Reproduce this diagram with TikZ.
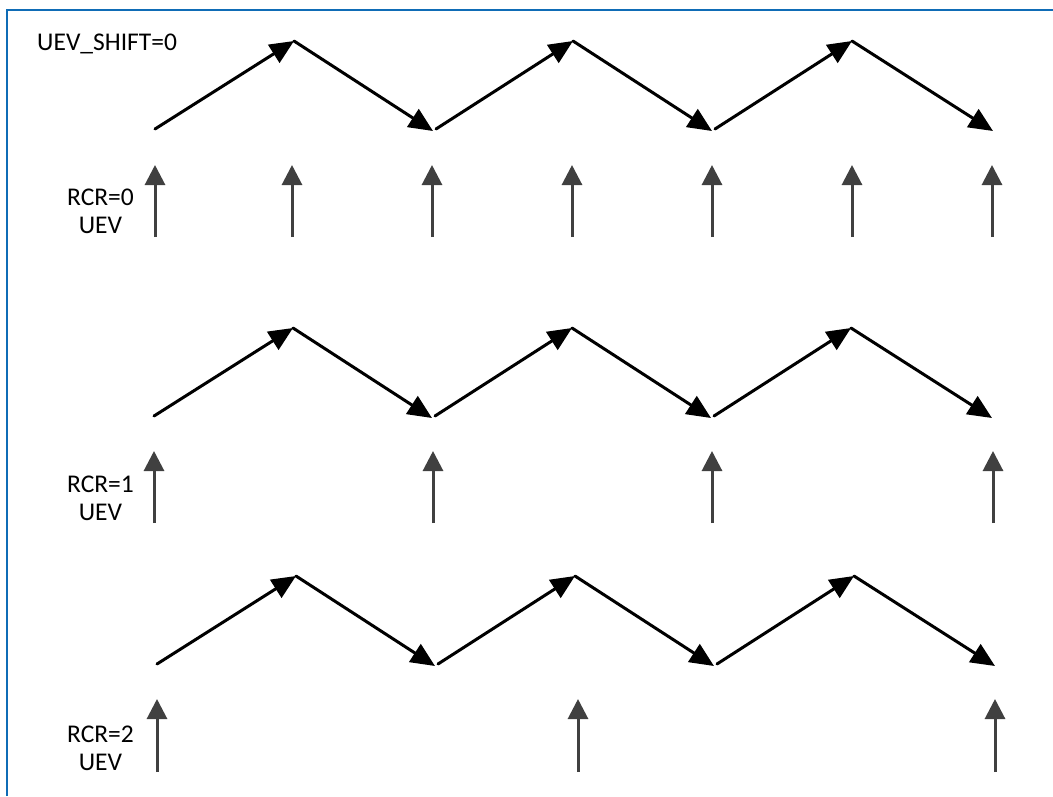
\documentclass[tikz,border=0pt]{standalone}
\usepackage{fontspec}
\setmainfont{Carlito}
\usetikzlibrary{arrows.meta}
\definecolor{frameblue}{HTML}{0F6CB6}
\definecolor{evgray}{HTML}{404040}
\begin{document}
\begin{tikzpicture}[x=1pt,y=-1pt,
  ramp/.style={line width=3pt,line cap=round,-{Triangle[length=24pt,width=21pt]}},
  uevarrow/.style={evgray,line width=3pt,-{Triangle[length=20pt,width=20pt]}},
  lbl/.style={inner sep=0pt,anchor=base,font=\fontsize{25.5}{28}\selectfont}]
\useasboundingbox (0,0) rectangle (1053,796);
% frame (clipped on right and bottom)
\draw[frameblue,line width=2pt] (7,796) -- (7,10.3) -- (1053,10.3);

\node[lbl,anchor=base west] (title) at (37,50) {UEV\_SHIFT=0};

% zigzag counters
\foreach \r/\dx/\dy in {0/0/0,1/-1/287,2/2/535}{
  \begin{scope}[shift={(\dx,\dy)}]
    \coordinate (z\r s)  at (155,129);
    \coordinate (z\r p1) at (294,41);
    \coordinate (z\r t1) at (433,131);
    \coordinate (z\r u1) at (436,129);
    \coordinate (z\r p2) at (573,41);
    \coordinate (z\r t2) at (712,131);
    \coordinate (z\r u2) at (715,129);
    \coordinate (z\r p3) at (852,41);
    \coordinate (z\r t3) at (993,131);
  \end{scope}
  \draw[ramp] (z\r s) -- (z\r p1);
  \draw[ramp] (z\r p1) -- (z\r t1);
  \draw[ramp] (z\r u1) -- (z\r p2);
  \draw[ramp] (z\r p2) -- (z\r t2);
  \draw[ramp] (z\r u2) -- (z\r p3);
  \draw[ramp] (z\r p3) -- (z\r t3);
}

% update events
\foreach \x [count=\i] in {155,292,432,572,712,852,992}{
  \coordinate (a0b\i) at (\x,237);
  \coordinate (a0t\i) at (\x,165);
  \draw[uevarrow] (a0b\i) -- (a0t\i);
}
\foreach \x [count=\i] in {154,433,712,993}{
  \coordinate (a1b\i) at (\x,523);
  \coordinate (a1t\i) at (\x,451);
  \draw[uevarrow] (a1b\i) -- (a1t\i);
}
\foreach \x [count=\i] in {157,578,995}{
  \coordinate (a2b\i) at (\x,772);
  \coordinate (a2t\i) at (\x,699);
  \draw[uevarrow] (a2b\i) -- (a2t\i);
}

% labels
\node[lbl] (r0a) at (100.5,205) {RCR=0};
\node[lbl] (r0b) at (100.5,233) {UEV};
\node[lbl] (r1a) at (100.5,492) {RCR=1};
\node[lbl] (r1b) at (100.5,520) {UEV};
\node[lbl] (r2a) at (100.5,742) {RCR=2};
\node[lbl] (r2b) at (100.5,770) {UEV};
\end{tikzpicture}
\end{document}
